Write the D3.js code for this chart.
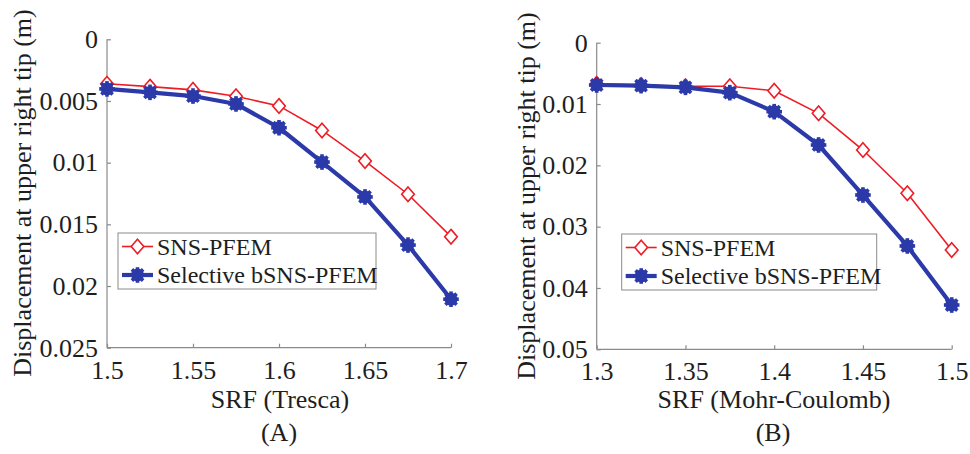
<!DOCTYPE html>
<html>
<head>
<meta charset="utf-8">
<script src="https://cdn.jsdelivr.net/npm/d3@7"></script>
<style>
  html, body { margin: 0; padding: 0; background: #fff; }
  svg { display: block; }
  text { font-family: "Liberation Serif", "Times New Roman", serif; fill: #1e1e1e; }
</style>
</head>
<body>
<svg id="chart" width="970" height="454"></svg>
<script>
// Load steps for each strength reduction run
const srfTresca = [1.5, 1.525, 1.55, 1.575, 1.6, 1.625, 1.65, 1.675, 1.7];
const snsTresca = [0.0036, 0.00384, 0.0041, 0.00462, 0.0054, 0.00739, 0.00987, 0.01256, 0.0160];
const bsnsTresca = [0.00402, 0.0043, 0.0046, 0.00524, 0.00717, 0.00995, 0.01278, 0.01668, 0.02107];

const srfMC = [1.3, 1.325, 1.35, 1.375, 1.4, 1.425, 1.45, 1.475, 1.5];
const snsMC = [0.0067, 0.0069, 0.0071, 0.0071, 0.00783, 0.01152, 0.0175, 0.02456, 0.0338];
const bsnsMC = [0.0069, 0.0070, 0.00728, 0.00815, 0.01125, 0.01668, 0.02484, 0.03315, 0.04278];

const xTicksTresca = [1.5, 1.55, 1.6, 1.65, 1.7];
const yTicksTresca = [0, 0.005, 0.01, 0.015, 0.02, 0.025];
const xTicksMC = [1.3, 1.35, 1.4, 1.45, 1.5];
const yTicksMC = [0, 0.01, 0.02, 0.03, 0.04, 0.05];

const seriesNames = ["SNS-PFEM", "Selective bSNS-PFEM"];

const RED = "#ee1c24";
const BLUE = "#2b3aa8";
const AXIS = "#8a8a8a";
const LABEL_SIZE = "26px";
const LEGEND_SIZE = "24px";

const svg = d3.select("#chart");

function fmt(v) { return String(+v.toFixed(4)); }

// filled star blob for the bSNS-PFEM series
function drawBlueMarker(g, cx, cy) {
  const m = g.append("g").attr("transform", `translate(${cx},${cy})`);
  m.append("circle").attr("r", 6.4).attr("fill", BLUE);
  const L = 7.8;
  [[L, 0], [0, L], [L * 0.72, L * 0.72], [L * 0.72, -L * 0.72]].forEach(([dx, dy]) => {
    m.append("line").attr("x1", -dx).attr("y1", -dy).attr("x2", dx).attr("y2", dy)
      .attr("stroke", BLUE).attr("stroke-width", 3.6);
  });
}

// open diamond for the SNS-PFEM series
function drawRedMarker(g, cx, cy) {
  const w = 6.3, h = 7.3;
  g.append("path")
    .attr("d", `M${cx},${cy - h}L${cx + w},${cy}L${cx},${cy + h}L${cx - w},${cy}Z`)
    .attr("fill", "#fff").attr("stroke", RED).attr("stroke-width", 1.6);
}

function panel(opt) {
  const g = svg.append("g");
  const x = d3.scaleLinear().domain(opt.xDomain).range([opt.left, opt.right]);
  const y = d3.scaleLinear().domain(opt.yDomain).range([opt.top, opt.bottom]);

  // axes: left and bottom only, with inward ticks
  const yAxis = d3.axisLeft(y).tickValues(opt.yTicks).tickSize(-4).tickPadding(9).tickFormat(fmt);
  const xAxis = d3.axisBottom(x).tickValues(opt.xTicks).tickSize(-4).tickPadding(14).tickFormat(fmt);

  const ya = g.append("g").attr("transform", `translate(${opt.left},0)`).call(yAxis);
  const xa = g.append("g").attr("transform", `translate(0,${opt.bottom})`).call(xAxis);
  [ya, xa].forEach(a => {
    a.select(".domain").attr("stroke", AXIS).attr("stroke-width", 1.2);
    a.selectAll(".tick line").attr("stroke", AXIS).attr("stroke-width", 1.2);
    a.selectAll(".tick text").style("font-family", '"Liberation Serif", serif')
      .style("font-size", LABEL_SIZE).attr("fill", "#1e1e1e");
  });
  ya.select(".domain").attr("d", `M0,${opt.top}V${opt.bottom}`);
  xa.select(".domain").attr("d", `M${opt.left},0H${opt.right}`);
  xa.selectAll(".tick text").attr("dy", "0.66em");

  const line = d3.line().x(d => x(d[0])).y(d => y(d[1]));

  // SNS-PFEM
  const redPts = opt.xs.map((v, i) => [v, opt.sns[i]]);
  g.append("path").attr("d", line(redPts)).attr("fill", "none")
    .attr("stroke", RED).attr("stroke-width", 1.6);
  redPts.forEach(p => drawRedMarker(g, x(p[0]), y(p[1])));

  // Selective bSNS-PFEM
  const bluePts = opt.xs.map((v, i) => [v, opt.bsns[i]]);
  g.append("path").attr("d", line(bluePts)).attr("fill", "none")
    .attr("stroke", BLUE).attr("stroke-width", 4.2).attr("stroke-linejoin", "round");
  bluePts.forEach(p => drawBlueMarker(g, x(p[0]), y(p[1])));

  // axis titles
  g.append("text")
    .attr("transform", `translate(${opt.yLabelX},${opt.yLabelY}) rotate(-90)`)
    .attr("text-anchor", "middle").style("font-size", LABEL_SIZE)
    .text("Displacement at upper right tip (m)");
  g.append("text").attr("x", opt.xLabelX).attr("y", 408)
    .attr("text-anchor", "middle").style("font-size", LABEL_SIZE).text(opt.xLabel);
  g.append("text").attr("x", opt.xLabelX - 1).attr("y", 441)
    .attr("text-anchor", "middle").style("font-size", LABEL_SIZE).text(opt.tag);

  // legend
  const lg = g.append("g");
  lg.append("rect").attr("x", opt.legX).attr("y", opt.legY).attr("width", opt.legW).attr("height", 56)
    .attr("fill", "#fff").attr("stroke", "#8a8a8a").attr("stroke-width", 1);
  const r1 = opt.legY + 13.5, r2 = opt.legY + 42;
  const lx0 = opt.legX + 4, lx1 = opt.legX + 35, lxm = (lx0 + lx1) / 2;
  lg.append("line").attr("x1", lx0).attr("x2", lx1).attr("y1", r1).attr("y2", r1)
    .attr("stroke", RED).attr("stroke-width", 1.6);
  drawRedMarker(lg, lxm, r1);
  lg.append("line").attr("x1", lx0).attr("x2", lx1).attr("y1", r2).attr("y2", r2)
    .attr("stroke", BLUE).attr("stroke-width", 4.2);
  drawBlueMarker(lg, lxm, r2);
  lg.append("text").attr("x", lx1 + 4).attr("y", r1).attr("dy", "0.35em")
    .style("font-size", LEGEND_SIZE).text(seriesNames[0]);
  lg.append("text").attr("x", lx1 + 4).attr("y", r2).attr("dy", "0.35em")
    .style("font-size", LEGEND_SIZE).text(seriesNames[1]);
}

panel({
  xs: srfTresca, sns: snsTresca, bsns: bsnsTresca,
  xDomain: [1.5, 1.7], yDomain: [0, 0.025],
  xTicks: xTicksTresca, yTicks: yTicksTresca,
  left: 107, right: 451, top: 39.3, bottom: 347.7,
  yLabelX: 31, yLabelY: 193, xLabelX: 280,
  xLabel: "SRF (Tresca)", tag: "(A)",
  legX: 118, legY: 233, legW: 258
});

panel({
  xs: srfMC, sns: snsMC, bsns: bsnsMC,
  xDomain: [1.3, 1.5], yDomain: [0, 0.05],
  xTicks: xTicksMC, yTicks: yTicksMC,
  left: 596.7, right: 951.7, top: 42.7, bottom: 349.3,
  yLabelX: 535, yLabelY: 196, xLabelX: 774,
  xLabel: "SRF (Mohr-Coulomb)", tag: "(B)",
  legX: 621.7, legY: 234, legW: 255
});
</script>
</body>
</html>
